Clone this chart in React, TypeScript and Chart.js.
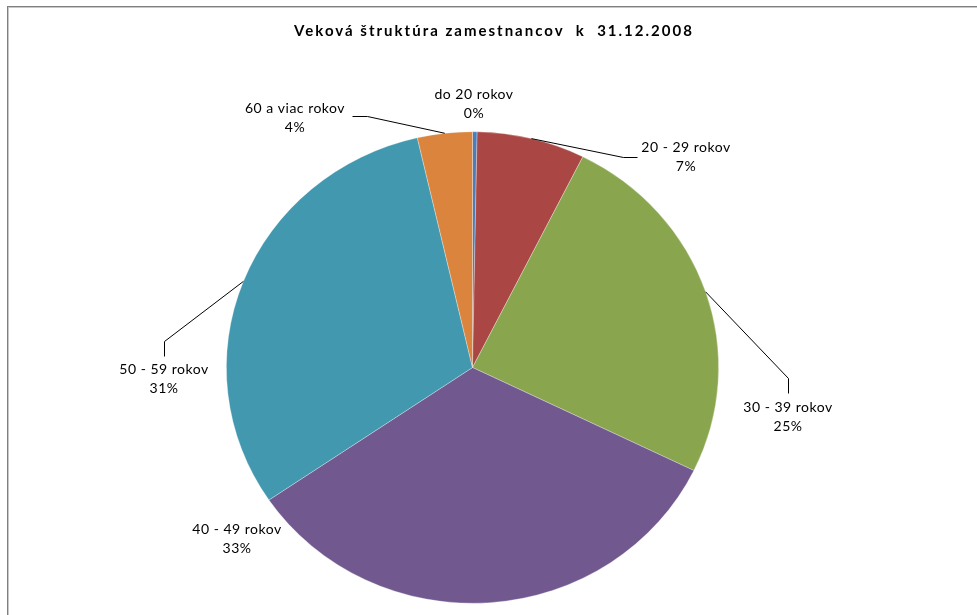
import React, { useEffect, useRef } from "react";
import { Chart, registerables } from "chart.js";

Chart.register(...registerables);

const TITLE = "Veková štruktúra zamestnancov  k  31.12.2008";
const categories = [
  "do 20 rokov",
  "20 - 29 rokov",
  "30 - 39 rokov",
  "40 - 49 rokov",
  "50 - 59 rokov",
  "60 a viac rokov",
];
const shares = [0.3, 7.1, 24.8, 33.3, 30.9, 3.6];
const sliceColors = ["#4A7EBB", "#AA4643", "#89A54E", "#71588F", "#4198AF", "#DB843D"];

// label placement (text centre, optional leader-line bend points)
const labelLayout: { x: number; y: number; bend?: [number, number][] }[] = [
  { x: 474, y: 94 },
  { x: 686, y: 147, bend: [[623, 157], [637, 157]] },
  { x: 788, y: 407, bend: [[788, 378], [788, 393]] },
  { x: 237, y: 529 },
  { x: 164, y: 369, bend: [[164, 341], [164, 356]] },
  { x: 295, y: 108, bend: [[367, 116], [352, 116]] },
];

const X_STRETCH = 1.044;
const FONT = "Lato, 'Open Sans', sans-serif";

const framePlugin = {
  id: "frame",
  beforeDraw(chart: any) {
    const ctx = chart.ctx;
    ctx.save();
    ctx.fillStyle = "#ffffff";
    ctx.fillRect(0, 0, chart.width, chart.height);
    ctx.fillStyle = "#7f7f7f";
    ctx.fillRect(7, 6, chart.width, 1);
    ctx.fillRect(7, 6, 1, chart.height);
    ctx.fillStyle = "#c8c8c8";
    ctx.fillRect(8, 7, chart.width, 1);
    ctx.fillRect(8, 7, 1, chart.height);
    ctx.fillStyle = "#000";
    ctx.font = `bold 15px ${FONT}`;
    ctx.textAlign = "center";
    ctx.textBaseline = "middle";
    try { (ctx as any).letterSpacing = "2px"; } catch (e) {}
    ctx.fillText(TITLE, 494, 31);
    ctx.restore();
  },
  beforeDatasetsDraw(chart: any) {
    const meta = chart.getDatasetMeta(0);
    const arc = meta.data[0];
    const ctx = chart.ctx;
    ctx.save();
    ctx.translate(arc.x, arc.y);
    ctx.scale(X_STRETCH, 1);
    ctx.translate(-arc.x, -arc.y);
  },
  afterDatasetsDraw(chart: any) {
    chart.ctx.restore();
  },
  afterDraw(chart: any) {
    const ctx = chart.ctx;
    const meta = chart.getDatasetMeta(0);
    const data: number[] = chart.data.datasets[0].data;
    const total = data.reduce((a, b) => a + b, 0);
    ctx.save();
    ctx.strokeStyle = "#000";
    ctx.lineWidth = 1;
    meta.data.forEach((el: any, i: number) => {
      const p = el.getProps(["x", "y", "startAngle", "endAngle", "outerRadius"], true);
      const mid = (p.startAngle + p.endAngle) / 2;
      const ex = p.x + Math.cos(mid) * p.outerRadius * X_STRETCH;
      const ey = p.y + Math.sin(mid) * p.outerRadius;
      const lay = labelLayout[i];
      if (lay.bend) {
        ctx.beginPath();
        ctx.moveTo(ex, ey);
        lay.bend.forEach(([bx, by]) => ctx.lineTo(bx + 0.5, by + 0.5));
        ctx.stroke();
      }
      ctx.fillStyle = "#000";
      ctx.font = `14px ${FONT}`;
      ctx.textAlign = "center";
      ctx.textBaseline = "middle";
      try { (ctx as any).letterSpacing = "0.5px"; } catch (e) {}
      ctx.fillText(categories[i], lay.x, lay.y);
      ctx.fillText(Math.round((data[i] / total) * 100) + "%", lay.x, lay.y + 19);
    });
    ctx.restore();
  },
};

export default function App() {
  const ref = useRef<HTMLCanvasElement>(null);
  useEffect(() => {
    if (!ref.current) return;
    const chart = new Chart(ref.current, {
      type: "pie",
      data: {
        labels: categories,
        datasets: [
          {
            data: shares,
            backgroundColor: sliceColors,
            borderColor: "rgba(255,255,255,0.6)",
            borderWidth: 0.5,
          },
        ],
      },
      options: {
        animation: false,
        responsive: false,
        layout: { padding: { left: 236.5, right: 268.5, top: 131, bottom: 11 } },
        plugins: {
          legend: { display: false },
          title: { display: false },
          tooltip: { enabled: false },
        },
      },
      plugins: [framePlugin],
    });
    return () => chart.destroy();
  }, []);
  return (
    <div style={{ position: "fixed", left: 0, top: 0, width: 977, height: 615 }}>
      <canvas ref={ref} width={977} height={615} style={{ width: 977, height: 615 }} />
    </div>
  );
}
